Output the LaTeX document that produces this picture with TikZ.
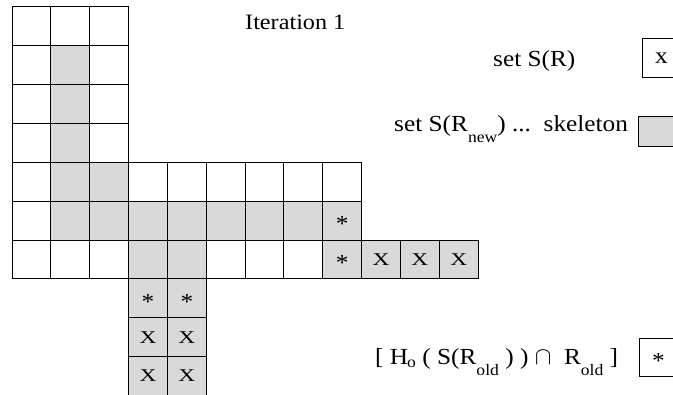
\documentclass[tikz,border=0pt]{standalone}
\usepackage{fontspec}
\setmainfont{Liberation Serif}[FakeStretch=1.1]
\newfontfamily\cellfont{Liberation Serif}[FakeStretch=1.3]
% lowered, smaller text used for the subscripts in the legend
\newcommand\lowtxt[2][0.45em]{\raisebox{-#1}{\fontsize{16}{16}\selectfont #2}}
\begin{document}
\begin{tikzpicture}[x=1pt,y=-1pt,
  cellbox/.style={draw=black, line width=1pt, minimum size=38.85pt,
    inner sep=0pt, outer sep=0pt},
  blank/.style={cellbox, fill=white},
  shaded/.style={cellbox, fill=gray!30},
  xcell/.style={shaded, font=\cellfont\fontsize{18}{18}\selectfont},
  starcell/.style={shaded, font=\fontsize{23}{23}\selectfont,
    text height=21.6pt, text depth=0pt},
  txt/.style={anchor=base west, inner sep=0pt,
    font=\fontsize{22}{22}\selectfont},
  keybox/.style={draw=black, line width=1pt, inner sep=0pt,
    minimum width=39pt, font=\fontsize{23}{23}\selectfont}]
\useasboundingbox (0,0) rectangle (673,395);

% grid origin (12,7), cell pitch 38.85
\foreach \r/\c in {0/0,0/1,0/2,1/0,1/2,2/0,2/2,3/0,3/2,
    4/0,4/3,4/4,4/5,4/6,4/7,4/8,5/0,6/0,6/1,6/2,6/5,6/6,6/7}
  \node[blank] (c\r-\c) at ({12+(\c+0.5)*38.85},{7+(\r+0.5)*38.85}) {};
\foreach \r/\c in {1/1,2/1,3/1,4/1,4/2,5/1,5/2,5/3,5/4,5/5,5/6,5/7,6/3,6/4}
  \node[shaded] (c\r-\c) at ({12+(\c+0.5)*38.85},{7+(\r+0.5)*38.85}) {};
\foreach \r/\c in {5/8,6/8,7/3,7/4}
  \node[starcell] (c\r-\c) at ({12+(\c+0.5)*38.85},{7+(\r+0.5)*38.85}) {*};
\foreach \r/\c in {6/9,6/10,6/11,8/3,8/4,9/3,9/4}
  \node[xcell] (c\r-\c) at ({12+(\c+0.5)*38.85},{7+(\r+0.5)*38.85}) {X};

% title and legend
\node[txt] (title) at (245,30) {Iteration 1};
\node[txt, font=\fontsize{23}{23}\selectfont] (legS) at (493,67) {set S(R)};
\node[keybox, minimum height=39pt] (boxS) at (661.5,58.5) {x};
\node[txt, font=\fontsize{23}{23}\selectfont] (legK) at (394,132)
  {set S(R\lowtxt{new}) ...\ \ skeleton};
\node[keybox, fill=gray!30, minimum height=30pt] (boxK) at (657.5,132) {};
\node[txt, font=\fontsize{23}{23}\selectfont] (legH) at (375,365)
  {[ H\kern-1pt\lowtxt[0.12em]{o} ( S(R\lowtxt{old} ) ) $\cap$\ \ R\lowtxt{old} ]};
\node[keybox, minimum height=38.5pt,
  text height=21.6pt, text depth=0pt] (boxH) at (658.5,357.5) {*};
\end{tikzpicture}
\end{document}
